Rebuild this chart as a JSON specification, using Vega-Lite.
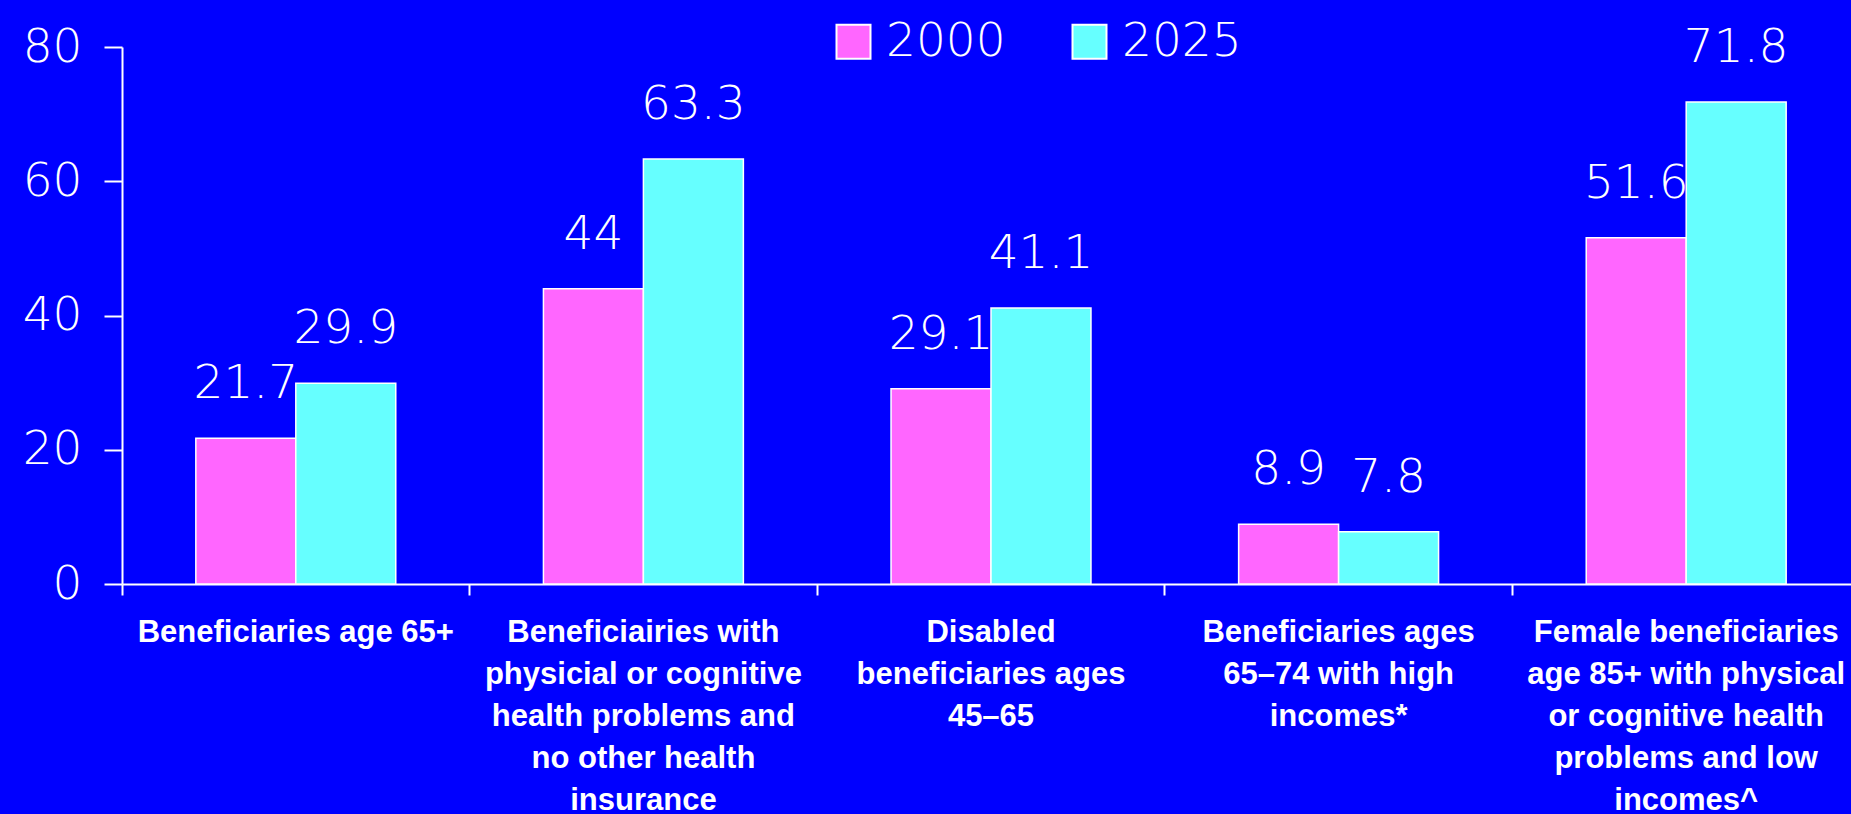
{
  "$schema": "https://vega.github.io/schema/vega-lite/v6.json",
  "autosize": {"type": "none"},
  "width": 1729,
  "height": 537,
  "padding": {"left": 122, "top": 47, "right": 0, "bottom": 230},
  "background": "#0000FF",
  "config": {"view": {"stroke": null}},
  "data": {
    "values": [
      {"group": "Beneficiaries age 65+", "year": "2000", "value": 21.7},
      {"group": "Beneficiaries age 65+", "year": "2025", "value": 29.9},
      {"group": "Beneficiairies with|physicial or cognitive|health problems and|no other health|insurance", "year": "2000", "value": 44},
      {"group": "Beneficiairies with|physicial or cognitive|health problems and|no other health|insurance", "year": "2025", "value": 63.3},
      {"group": "Disabled|beneficiaries ages|45–65", "year": "2000", "value": 29.1},
      {"group": "Disabled|beneficiaries ages|45–65", "year": "2025", "value": 41.1},
      {"group": "Beneficiaries ages|65–74 with high|incomes*", "year": "2000", "value": 8.9},
      {"group": "Beneficiaries ages|65–74 with high|incomes*", "year": "2025", "value": 7.8},
      {"group": "Female beneficiaries|age 85+ with physical|or cognitive health|problems and low|incomes^", "year": "2000", "value": 51.6},
      {"group": "Female beneficiaries|age 85+ with physical|or cognitive health|problems and low|incomes^", "year": "2025", "value": 71.8}
    ]
  },
  "encoding": {
    "x": {
      "field": "group",
      "type": "nominal",
      "sort": null,
      "scale": {"range": [0, 1738], "paddingInner": 0, "paddingOuter": 0},
      "axis": {
        "title": null,
        "labelAngle": 0,
        "bandPosition": 0,
        "labelDx": 174,
        "labelAlign": "center",
        "labelBaseline": "top",
        "labelExpr": "split(datum.label, '|')",
        "labelLimit": 0,
        "labelFont": "Liberation Sans",
        "labelFontWeight": "bold",
        "labelFontSize": 31,
        "labelLineHeight": 42,
        "labelPadding": 22,
        "labelColor": "white",
        "tickSize": 11,
        "tickWidth": 2,
        "tickColor": "white",
        "domainColor": "white",
        "domainWidth": 2,
        "labelOverlap": false
      }
    },
    "xOffset": {
      "field": "year",
      "type": "nominal",
      "scale": {"paddingOuter": 0.7385, "paddingInner": 0}
    },
    "y": {
      "field": "value",
      "type": "quantitative",
      "scale": {"domain": [0, 80], "nice": false},
      "axis": {
        "title": null,
        "grid": false,
        "values": [0, 20, 40, 60, 80],
        "labelFont": "DejaVu Sans",
        "labelFontWeight": 200,
        "labelFontSize": 47,
        "labelColor": "white",
        "labelPadding": 22,
        "tickSize": 18,
        "tickWidth": 2,
        "tickColor": "white",
        "domainColor": "white",
        "domainWidth": 2
      }
    }
  },
  "layer": [
    {
      "mark": {"type": "bar", "stroke": "white", "strokeWidth": 1.5},
      "encoding": {
        "color": {
          "field": "year",
          "type": "nominal",
          "scale": {"domain": ["2000", "2025"], "range": ["#FF66FF", "#66FFFF"]},
          "legend": {
            "title": null,
            "orient": "none",
            "legendX": 708,
            "legendY": -29,
            "direction": "horizontal",
            "symbolType": "square",
            "symbolSize": 1156,
            "symbolStrokeColor": "white",
            "symbolStrokeWidth": 2,
            "symbolOpacity": 1,
            "labelFont": "DejaVu Sans",
            "labelFontWeight": 200,
            "labelFontSize": 47,
            "labelColor": "white",
            "labelOffset": 9,
            "columnPadding": 60
          }
        }
      }
    },
    {
      "mark": {
        "type": "text",
        "dy": -40,
        "baseline": "alphabetic",
        "align": "center",
        "font": "DejaVu Sans",
        "fontWeight": 200,
        "fontSize": 47,
        "color": "white"
      },
      "encoding": {"text": {"field": "value", "type": "quantitative"}}
    }
  ]
}
